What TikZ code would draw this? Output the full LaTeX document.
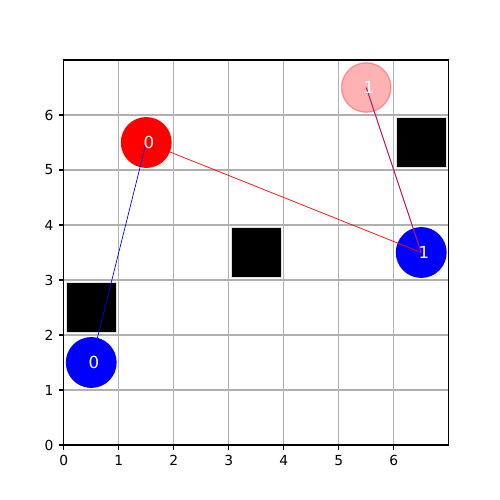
\documentclass[tikz,border=0pt]{standalone}
\usepackage{fontspec}
\setmainfont{DejaVu Sans}
\definecolor{gridgray}{HTML}{B0B0B0}
\definecolor{pathpurple}{RGB}{190,20,110}
\begin{document}
\begin{tikzpicture}[x=0.55in,y=0.55in,
    gridline/.style={gridgray,line width=0.8pt},
    axisline/.style={black,line width=0.8pt},
    obstacle/.style={fill=black,draw=black!12,line width=0.6pt},
    agent/.style={circle,minimum size=0.495in,inner sep=0pt,line width=1pt},
    tag/.style={white,inner sep=0pt,font=\fontsize{12}{14}\selectfont},
    ticklabel/.style={inner sep=0pt,font=\fontsize{10}{12}\selectfont}]
	\useasboundingbox (-1.159,-1) rectangle (7.932,8.091);
	% Lưới
	\foreach \k in {1,...,6} {
		\draw[gridline] (\k,0) -- (\k,7);
		\draw[gridline] (0,\k) -- (7,\k);
	}
	% Chướng ngại vật
	\foreach \x/\y in {0/2,3/3,6/5} {
		\draw[obstacle] (\x+0.05,\y+0.05) rectangle (\x+0.95,\y+0.95);
	}
	% Khung trục
	\draw[axisline] (0,0) rectangle (7,7);
	\foreach \k in {0,...,6} {
		\draw[axisline] (\k,0) -- ++(0,-3.5pt) node[ticklabel,anchor=north,yshift=-3.5pt] (xt\k) {\k};
		\draw[axisline] (0,\k) -- ++(-3.5pt,0) node[ticklabel,anchor=east,xshift=-3.5pt] (yt\k) {\k};
	}
	% Tác tử và đích
	\node[agent,fill=blue,draw=blue] (a0) at (0.5,1.5) {};
	\node[agent,fill=red,draw=red] (g0) at (1.5,5.5) {};
	\node[agent,fill=blue,draw=blue] (a1) at (6.5,3.5) {};
	\node[agent,fill=red,draw=red,opacity=0.3] (g1) at (5.5,6.5) {};
	% Đường đi
	\draw[blue,line width=0.5pt] (a0.center) -- (g0.center);
	\draw[red,line width=0.5pt] (g0.center) -- (a1.center);
	\draw[pathpurple,line width=0.7pt] (g1.center) -- (a1.center);
	% Nhãn
	\node[tag] (l0) at ([xshift=2pt]g0.center) {0};
	\node[tag] (l1) at ([xshift=2pt]a0.center) {0};
	\node[tag] (l2) at ([xshift=2pt]a1.center) {1};
	\node[tag] (l3) at ([xshift=2pt]g1.center) {1};
\end{tikzpicture}
\end{document}
